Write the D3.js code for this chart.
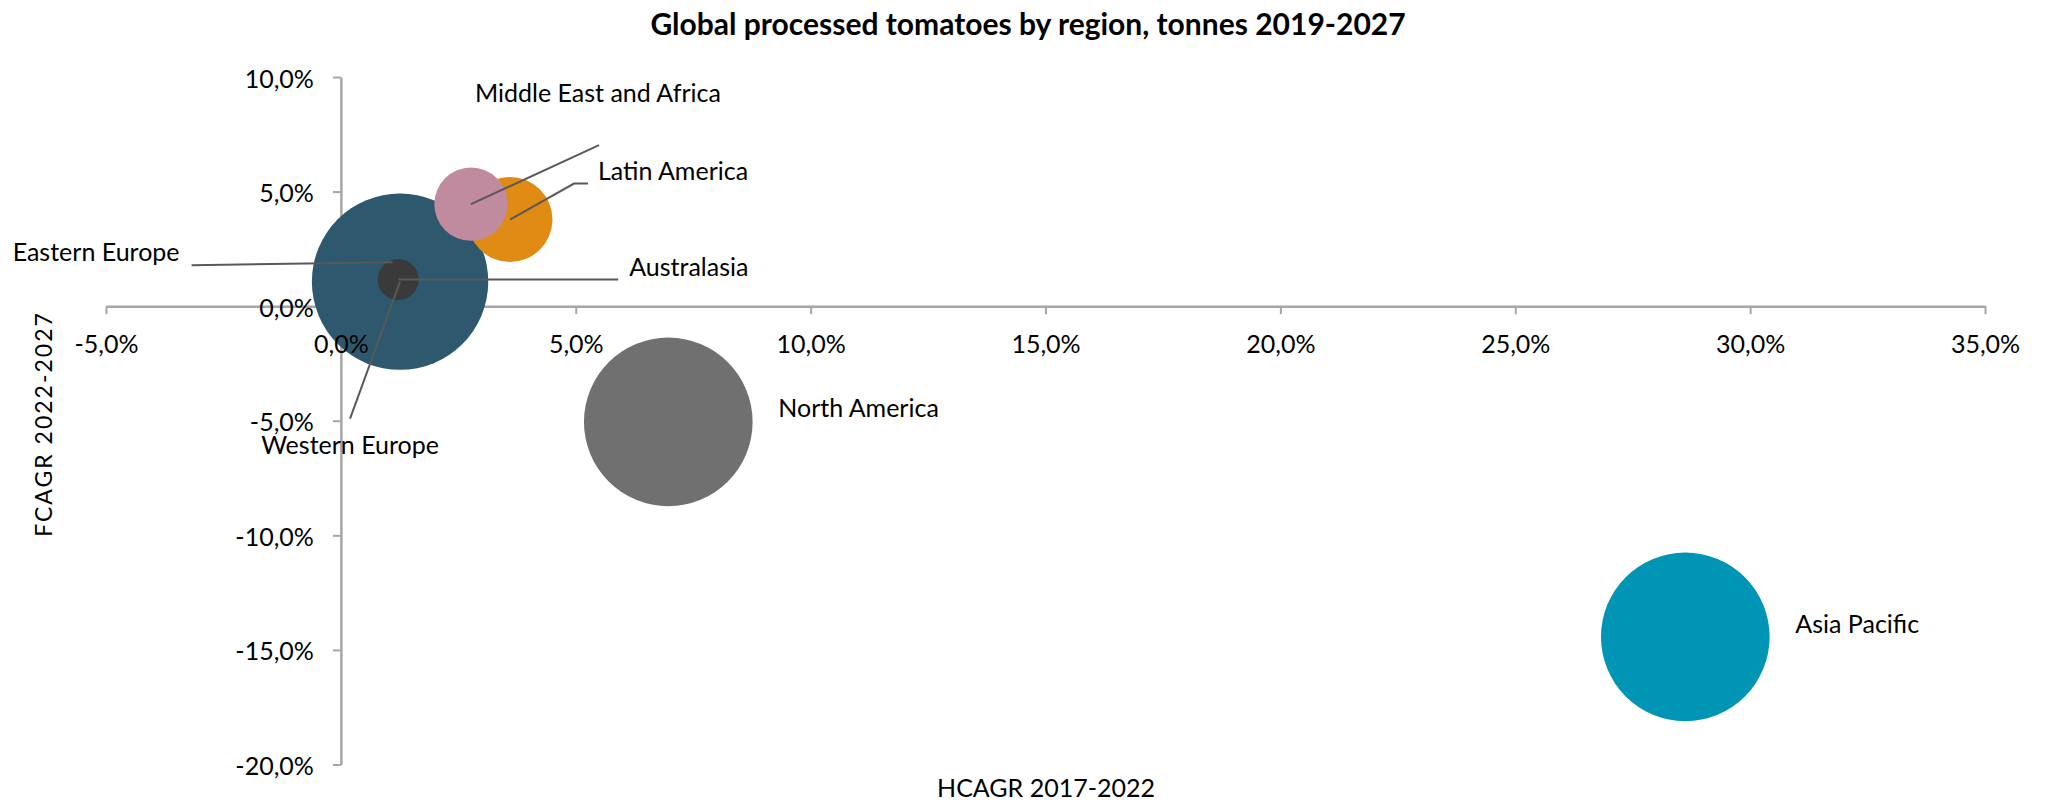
<!DOCTYPE html>
<html>
<head>
<meta charset="utf-8">
<script src="https://cdn.jsdelivr.net/npm/d3@7"></script>
<style>
  body { margin: 0; background: #fff; }
  text { font-family: Lato, "Open Sans", sans-serif; fill: #000; }
</style>
</head>
<body>
<svg width="2045" height="801"></svg>
<script>
// regions, historic CAGR (x), forecast CAGR (y), bubble size (relative volume)
const regions = ['Eastern Europe', 'Western Europe', 'North America', 'Asia Pacific',
                 'Latin America', 'Middle East and Africa', 'Australasia'];
const hcagr = [1.1, 1.26, 6.97, 28.62, 3.6, 2.77, 1.22];
const fcagr = [1.92, 1.07, -5.05, -14.43, 3.78, 4.45, 1.16];
const volume = [40, 100, 91.4, 91.4, 23.2, 17.3, 5.4];

const xTicks = [-5, 0, 5, 10, 15, 20, 25, 30, 35];
const yTicks = [10, 5, 0, -5, -10, -15, -20];

const colors = {
    'Eastern Europe': '#2E586D',
    'Western Europe': '#2E586D',
    'North America': '#707070',
    'Asia Pacific': '#0094B5',
    'Latin America': '#E08B13',
    'Middle East and Africa': '#C08A9F',
    'Australasia': '#3A3A3A',
    axis: '#A6A6A6',
    leader: '#595959'
};

// label placement relative to the bubble centre, in pixels
// (anchor = where the text sits, leader = polyline points from centre)
const labelLayout = {
    'Eastern Europe': { dx: -213, dy: -11, anchor: 'end', leader: [[-201, 3]] },
    'Western Europe': { dx: -50, dy: 162, anchor: 'middle', leader: [[-50, 137]] },
    'North America': { dx: 110, dy: -15, anchor: 'start', leader: null },
    'Asia Pacific': { dx: 110, dy: -14, anchor: 'start', leader: null },
    'Latin America': { dx: 88, dy: -50, anchor: 'start', leader: [[64, -36], [78, -36]] },
    'Middle East and Africa': { dx: 4, dy: -112, anchor: 'start', leader: [[128, -59]] },
    'Australasia': { dx: 231, dy: -14, anchor: 'start', leader: [[220, 0]] }
};

const svg = d3.select('svg');
// comma decimal, plain hyphen for negatives
const fmt = v => d3.format('.1f')(v).replace('.', ',').replace('\u2212', '-') + '%';

const x = d3.scaleLinear().domain([-5, 35]).range([106, 1985]);
const y = d3.scaleLinear().domain([10, -20]).range([77, 764.5]);
const r = d3.scaleSqrt().domain([0, d3.max(volume)]).range([0, 88.2]);

// title
svg.append('text')
    .attr('x', 1028).attr('y', 23)
    .attr('text-anchor', 'middle').attr('dominant-baseline', 'central')
    .style('font-size', '30px').style('font-weight', 'bold')
    .text('Global processed tomatoes by region, tonnes 2019-2027');

// axes are drawn twice: lines below the bubbles, tick labels above them
function drawAxes(part) {
    const xAxis = svg.append('g')
        .attr('transform', `translate(0,${y(0)})`)
        .call(d3.axisBottom(x).tickValues(xTicks).tickSize(8).tickSizeOuter(0).tickFormat(fmt));
    const yAxis = svg.append('g')
        .attr('transform', `translate(${x(0)},0)`)
        .call(d3.axisLeft(y).tickValues(yTicks).tickSize(8).tickSizeOuter(0).tickFormat(fmt));

    [xAxis, yAxis].forEach(g => {
        g.attr('font-family', null).attr('font-size', null);
        if (part === 'lines') {
            g.selectAll('.tick text').remove();
            g.select('.domain').attr('stroke', colors.axis).attr('stroke-width', 2.5);
            g.selectAll('.tick line').attr('stroke', colors.axis).attr('stroke-width', 2);
        } else {
            g.select('.domain').remove();
            g.selectAll('.tick line').remove();
            g.selectAll('.tick text').style('font-size', '25px');
        }
    });
    xAxis.selectAll('.tick text').attr('y', 0).attr('dy', null)
        .attr('dominant-baseline', 'central').attr('transform', 'translate(0,37)');
    yAxis.selectAll('.tick text').attr('x', -27).attr('dy', null)
        .attr('dominant-baseline', 'central');
}
drawAxes('lines');

// axis titles
svg.append('text')
    .attr('x', 1046).attr('y', 787)
    .attr('text-anchor', 'middle').attr('dominant-baseline', 'central')
    .style('font-size', '25px')
    .text('HCAGR 2017-2022');
svg.append('text')
    .attr('transform', 'translate(43,424) rotate(-90)')
    .attr('text-anchor', 'middle').attr('dominant-baseline', 'central')
    .style('font-size', '23px').style('letter-spacing', '2px')
    .text('FCAGR 2022-2027');

// bubbles
const points = regions.map((name, i) => ({ name, hx: hcagr[i], fy: fcagr[i], v: volume[i] }));

svg.append('g').selectAll('circle')
    .data(points)
    .join('circle')
    .attr('cx', d => x(d.hx))
    .attr('cy', d => y(d.fy))
    .attr('r', d => r(d.v))
    .attr('fill', d => colors[d.name]);

drawAxes('labels');

// leader lines
const lineGen = d3.line();
svg.append('g').selectAll('path')
    .data(points.filter(d => labelLayout[d.name].leader))
    .join('path')
    .attr('d', d => {
        const cx = x(d.hx), cy = y(d.fy);
        const pts = [[cx, cy]].concat(labelLayout[d.name].leader.map(p => [cx + p[0], cy + p[1]]));
        return lineGen(pts);
    })
    .attr('fill', 'none')
    .attr('stroke', colors.leader)
    .attr('stroke-width', 2);

// data labels
svg.append('g').selectAll('text')
    .data(points)
    .join('text')
    .attr('x', d => x(d.hx) + labelLayout[d.name].dx)
    .attr('y', d => y(d.fy) + labelLayout[d.name].dy)
    .attr('text-anchor', d => labelLayout[d.name].anchor)
    .attr('dominant-baseline', 'central')
    .style('font-size', '25px')
    .text(d => d.name);
</script>
</body>
</html>
